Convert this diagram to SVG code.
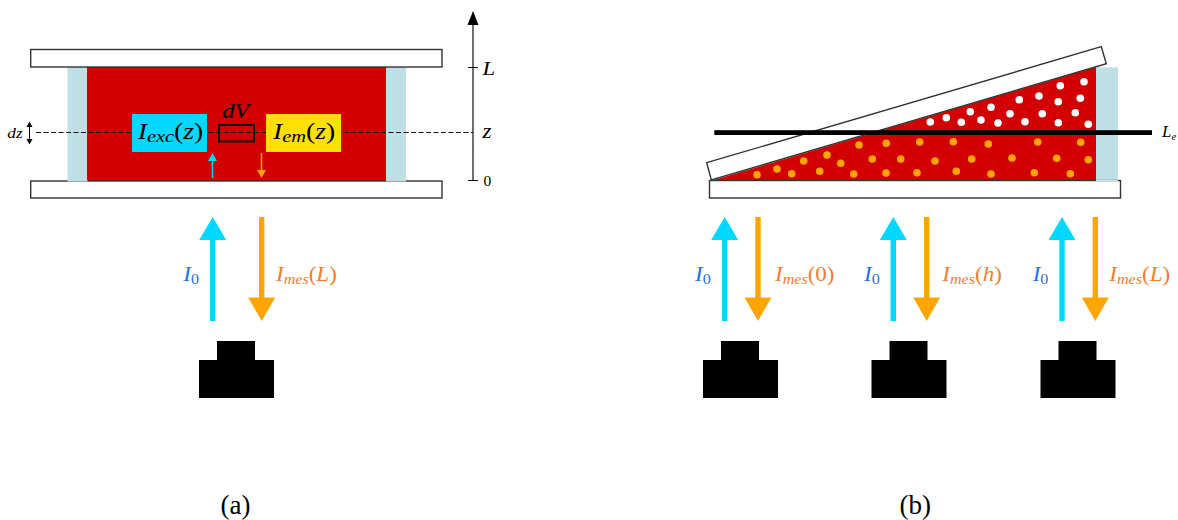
<svg xmlns="http://www.w3.org/2000/svg" width="1178" height="520" viewBox="0 0 1178 520">
<style>
.t{font-family:"Liberation Serif","Times New Roman",serif;fill:#000}
.i{font-style:italic}
.b{fill:#1f6fe5}.o{fill:#f47b30}
.plate{fill:#fff;stroke:#333;stroke-width:1.4}
.spacer{fill:#bfdfe6}
.red{fill:#d20000}
.cy{fill:#00d8ff}.or{fill:#ffa500}
.w{fill:#fff}
.lbl{font-size:20px}
.sub{font-size:14px}
.box{font-size:23px}
.boxsub{font-size:17px}
circle{r:3.8px}
</style>
<defs>
<g id="cam"><path d="M18 0H56V19H75V57H0V19H18Z" fill="#000"/></g>
<g id="up"><path d="M-2.7 104V23H-13.5L0 0L13.5 23H2.7V104Z" class="cy"/></g>
<g id="down"><path d="M-2.7 0V80.500H-13.5L0 104L13.500 80.500H2.700V0Z" class="or"/></g>
<g id="I0"><text class="t b lbl" transform="scale(1.15 1)"><tspan class="i">I</tspan><tspan class="sub" dy="3">0</tspan></text></g>
</defs>

<g id="cell-a">
<rect class="spacer" x="67.500" y="67" width="20" height="114.500"/>
<rect class="spacer" x="386" y="67" width="20" height="114.500"/>
<rect class="red" x="87" y="67" width="299" height="114"/>
<rect class="plate" x="30.700" y="49.500" width="411.300" height="17.500"/>
<rect class="plate" x="30.700" y="181" width="411.300" height="17"/>
<rect class="spacer" x="67.500" y="180" width="20" height="1.500"/>
<rect class="spacer" x="386" y="180" width="20" height="1.500"/>
</g>

<g id="connectors">
<path d="M36 132.500H473" fill="none" stroke="#111" stroke-width="1" stroke-dasharray="5 2.500"/>
<path d="M473 181V22M468 67.500H478M468 180.500H478" fill="none" stroke="#111" stroke-width="1.200"/>
<path d="M473 11L478.500 25H467.500Z" fill="#000"/>
<path d="M29.500 124V142" stroke="#000" stroke-width="1" fill="none"/>
<path d="M29.500 121.500L32.500 127H26.500ZM29.500 144.500L32.500 139H26.500Z" fill="#000"/>
<path d="M212.500 178V160" stroke="#00d8ff" stroke-width="1.500"/><path d="M212.500 153L217 161H208Z" class="cy"/>
<path d="M261.500 153V171" stroke="#ffa500" stroke-width="1.500"/><path d="M261.500 178L266 170H257Z" class="or"/>
<use href="#up" x="212.700" y="217"/>
<use href="#down" x="261.700" y="217"/>
<use href="#up" x="724.700" y="217"/>
<use href="#down" x="758" y="217"/>
<use href="#up" x="893.300" y="217"/>
<use href="#down" x="926.700" y="217"/>
<use href="#up" x="1062" y="217"/>
<use href="#down" x="1095.300" y="217"/>
</g>

<g id="box-exc">
<rect class="cy" x="132" y="114" width="75" height="38"/>
<text class="t box" transform="translate(137.700 138.500) scale(1.2 1)"><tspan class="i">I</tspan><tspan class="i boxsub" dy="3.500">exc</tspan><tspan dy="-3.500">(</tspan><tspan class="i">z</tspan><tspan>)</tspan></text>
</g>
<g id="box-em">
<rect fill="#ffe000" x="266" y="114" width="75" height="38"/>
<text class="t box" transform="translate(273 138.500) scale(1.2 1)"><tspan class="i">I</tspan><tspan class="i boxsub" dy="3.500">em</tspan><tspan dy="-3.500">(</tspan><tspan class="i">z</tspan><tspan>)</tspan></text>
</g>
<g id="dv">
<rect x="219" y="125" width="35" height="16.500" fill="none" stroke="#111" stroke-width="2"/>
<text class="t i" transform="translate(222.500 117.700) scale(1.15 1)" font-size="21">dV</text>
</g>
<g id="axis-labels">
<text class="t i" transform="translate(482.500 75) scale(1.2 1)" font-size="19">L</text>
<text class="t i lbl" transform="translate(482.500 138) scale(1.15 1)">z</text>
<text class="t" x="483.500" y="185.700" font-size="15.500" fill="#333">0</text>
<text class="t i" transform="translate(7.300 138) scale(1.15 1)" font-size="15" fill="#333">dz</text>
</g>

<g id="beam-labels-a">
<use href="#I0" x="183.300" y="281"/>
<text class="t o lbl" transform="translate(276 281) scale(1.15 1)"><tspan class="i">I</tspan><tspan class="i sub" dy="3">mes</tspan><tspan dy="-3">(</tspan><tspan class="i">L</tspan><tspan>)</tspan></text>
</g>
<g id="camera-a"><use href="#cam" x="199" y="341"/></g>

<g id="cell-b">
<rect class="spacer" x="1096" y="67.300" width="22" height="114"/>
<path d="M712 180.500L1096 67V181H712Z" class="red"/>
<path d="M706.700 162.700L1101.300 46.700L1106.300 63.700L711.300 180Z" class="plate" stroke-width="1.200"/>
<rect class="plate" x="709.500" y="180.500" width="411" height="17.500"/>
<rect class="spacer" x="1096" y="179.500" width="22" height="1.500"/>
</g>
<g id="dots-white" class="w">
<circle cx="930.300" cy="122"/><circle cx="946.300" cy="117.700"/><circle cx="961.300" cy="122.300"/><circle cx="970.300" cy="111.700"/><circle cx="981" cy="120"/><circle cx="991" cy="107.300"/><circle cx="998" cy="123"/><circle cx="1010" cy="113.700"/><circle cx="1019.300" cy="99.700"/><circle cx="1025" cy="121.700"/><circle cx="1039" cy="96"/><circle cx="1042.300" cy="113.700"/><circle cx="1058.300" cy="101.700"/><circle cx="1058.300" cy="122.700"/><circle cx="1060.300" cy="85.700"/><circle cx="1075.300" cy="112.700"/><circle cx="1080.300" cy="98.300"/><circle cx="1084" cy="81.700"/><circle cx="1088.300" cy="124.300"/>
</g>
<g id="dots-orange" class="or">
<circle cx="757" cy="174.700"/><circle cx="777" cy="169"/><circle cx="791.700" cy="173.700"/><circle cx="803.700" cy="161"/><circle cx="819.700" cy="171.300"/><circle cx="827" cy="155"/><circle cx="840.700" cy="163.300"/><circle cx="853.700" cy="174"/><circle cx="859" cy="145"/><circle cx="872.300" cy="159"/><circle cx="886" cy="173"/><circle cx="886.300" cy="143.300"/><circle cx="900.700" cy="159"/><circle cx="917" cy="172.700"/><circle cx="919.700" cy="142"/><circle cx="935" cy="161"/><circle cx="953.300" cy="141.700"/><circle cx="956.300" cy="171.300"/><circle cx="971.700" cy="159"/><circle cx="988.300" cy="144"/><circle cx="991" cy="174"/><circle cx="1012" cy="158"/><circle cx="1034.300" cy="172.700"/><circle cx="1037.700" cy="142"/><circle cx="1056.700" cy="158.300"/><circle cx="1070.300" cy="173.700"/><circle cx="1080.700" cy="142.300"/><circle cx="1088.300" cy="159.700"/>
</g>
<g id="line-le">
<rect x="714.300" y="130.200" width="437.700" height="4.800" fill="#000"/>
<text class="t" x="1162" y="136.700" font-size="17"><tspan class="i">L</tspan><tspan class="i" font-size="11" dy="3">e</tspan></text>
</g>

<g id="beam-labels-b">
<use href="#I0" x="695" y="281"/>
<text class="t o lbl" transform="translate(775 281) scale(1.15 1)"><tspan class="i">I</tspan><tspan class="i sub" dy="3">mes</tspan><tspan dy="-3">(0)</tspan></text>
<use href="#I0" x="864" y="281"/>
<text class="t o lbl" transform="translate(942.300 281) scale(1.15 1)"><tspan class="i">I</tspan><tspan class="i sub" dy="3">mes</tspan><tspan dy="-3">(</tspan><tspan class="i">h</tspan><tspan>)</tspan></text>
<use href="#I0" x="1032.700" y="281"/>
<text class="t o lbl" transform="translate(1109.300 281) scale(1.15 1)"><tspan class="i">I</tspan><tspan class="i sub" dy="3">mes</tspan><tspan dy="-3">(</tspan><tspan class="i">L</tspan><tspan>)</tspan></text>
</g>
<g id="camera-b1"><use href="#cam" x="703" y="341"/></g>
<g id="camera-b2"><use href="#cam" x="871.500" y="341"/></g>
<g id="camera-b3"><use href="#cam" x="1040.500" y="341"/></g>

<g id="captions">
<text class="t" x="220.500" y="514" font-size="27">(a)</text>
<text class="t" x="899.500" y="514" font-size="27">(b)</text>
</g>
</svg>
